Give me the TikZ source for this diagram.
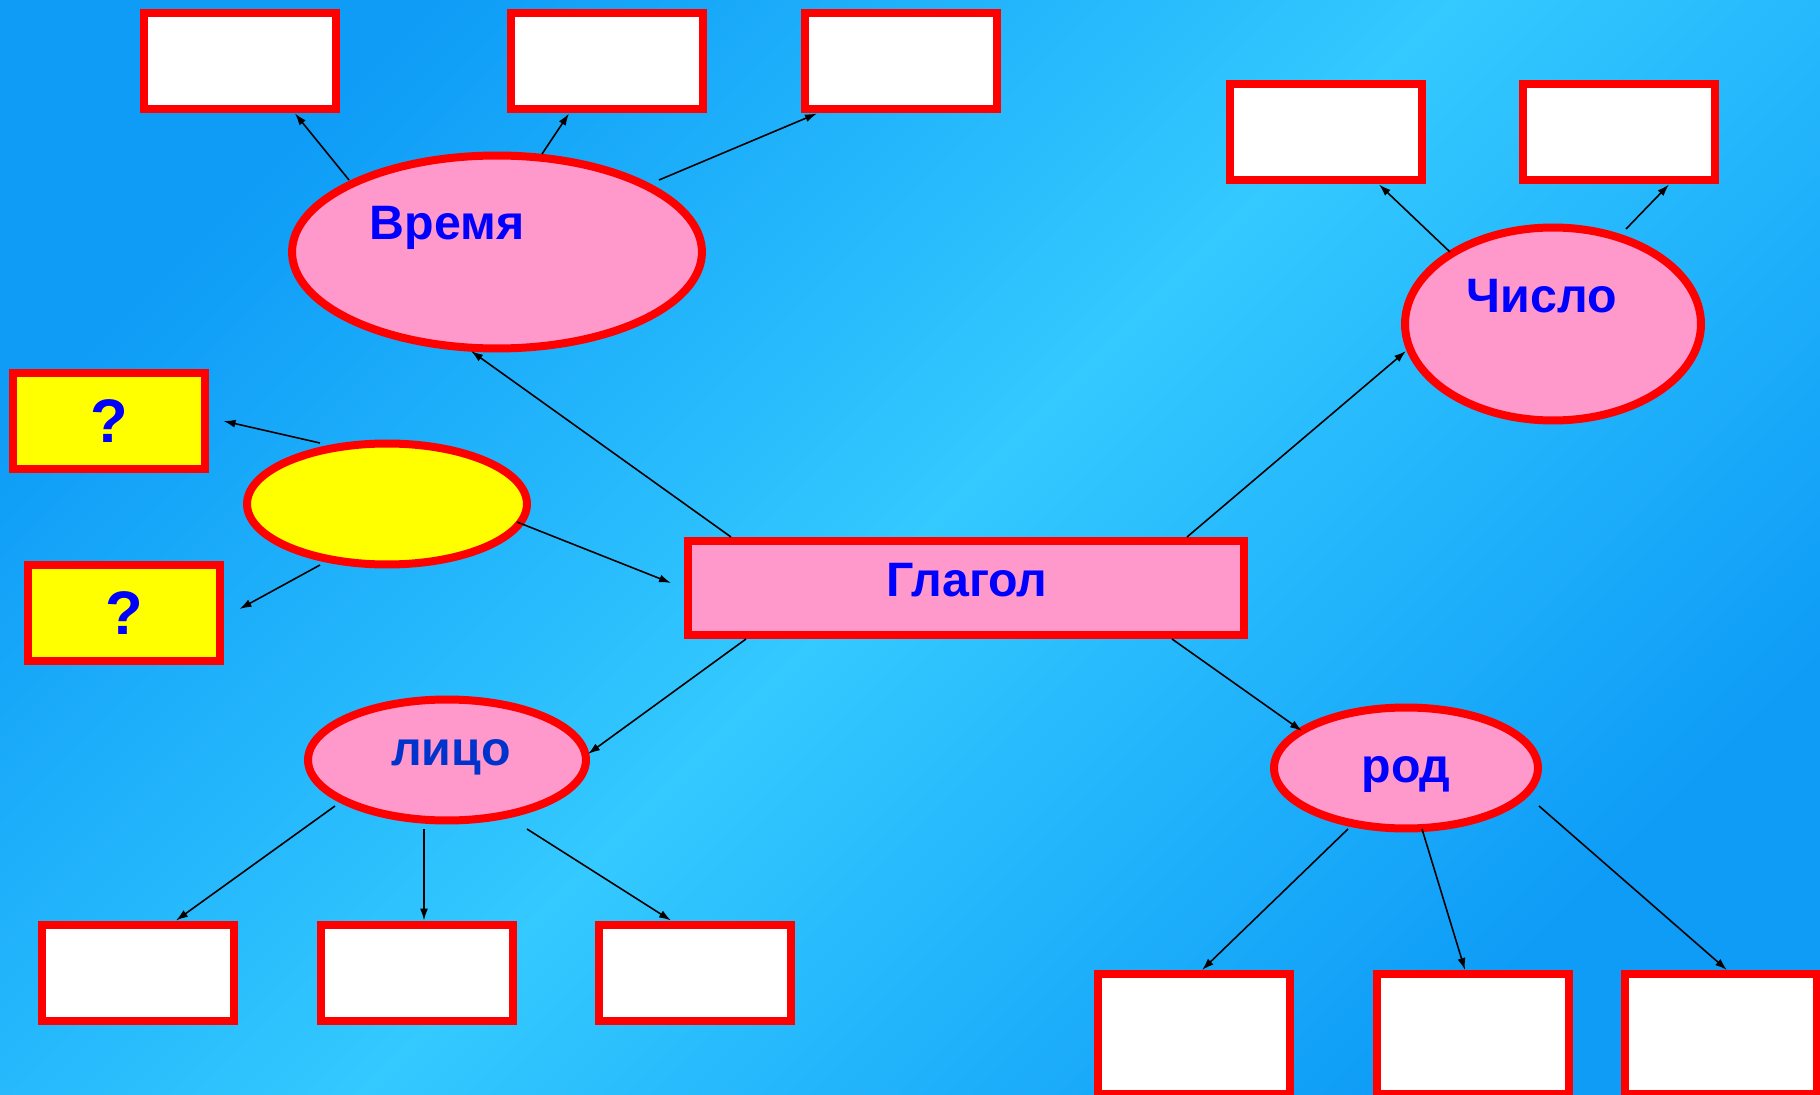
\documentclass[tikz,border=0pt]{standalone}
\usepackage{fontspec}
\setmainfont{Liberation Sans}
\usetikzlibrary{shapes.geometric,arrows.meta,calc}
\definecolor{bgdark}{HTML}{0E9CF7}
\definecolor{bglight}{HTML}{34C9FF}
\definecolor{pinkfill}{HTML}{FF99CC}
\definecolor{redline}{HTML}{FF0000}
\definecolor{yel}{HTML}{FFFF00}
\definecolor{lbl}{HTML}{0000FF}
\definecolor{lbldark}{HTML}{0033CC}
\begin{document}
\begin{tikzpicture}[x=0.02cm,y=-0.02cm,
  box/.style={draw=redline, line width=0.16cm, fill=white, rectangle,
    minimum width=3.86cm, minimum height=1.94cm, inner sep=0pt},
  tallbox/.style={box, minimum height=2.4cm},
  qbox/.style={box, fill=yel, font=\fontsize{35}{38}\selectfont\bfseries, text=lbl},
  oval/.style={draw=redline, line width=0.16cm, fill=pinkfill, ellipse, inner sep=0pt},
  lab/.style={anchor=base, font=\fontsize{27.5}{30}\selectfont\bfseries, text=lbl, inner sep=0pt},
  arr/.style={draw=black, line width=0.9pt, -{Latex[length=0.24cm,width=0.16cm]}}]

\useasboundingbox (0,0) rectangle (1820,1095);
\shade[top color=bgdark, bottom color=bgdark, middle color=bglight, shading angle=45]
  (0,0) rectangle (1820,1095);

% boxes
\node[box] (T1) at (240,61) {};
\node[box] (T2) at (607,61) {};
\node[box] (T3) at (901,61) {};
\node[box] (N1) at (1326,132) {};
\node[box] (N2) at (1619,132) {};
\node[qbox] (Q1) at (109,421) {?};
\node[qbox] (Q2) at (124,613) {?};
\node[box] (L1) at (138,973) {};
\node[box] (L2) at (417,973) {};
\node[box] (L3) at (695,973) {};
\node[tallbox] (R1) at (1194,1034) {};
\node[tallbox] (R2) at (1473,1034) {};
\node[tallbox] (R3) at (1721,1034) {};
\node[box, fill=pinkfill, minimum width=11.12cm, minimum height=1.88cm] (Gl) at (966,588) {};

% ellipses
\node[oval, minimum width=8.2cm, minimum height=3.86cm] (Vr) at (497,252) {};
\node[oval, minimum width=5.92cm, minimum height=3.86cm] (Ch) at (1553,324) {};
\node[oval, fill=yel, minimum width=5.6cm, minimum height=2.42cm] (Ye) at (387,504) {};
\node[oval, minimum width=5.56cm, minimum height=2.42cm] (Li) at (447,760) {};
\node[oval, minimum width=5.28cm, minimum height=2.42cm] (Rod) at (1406,768) {};

% labels
\node[lab] (VrT) at (447,239) {Время};
\node[lab] (ChT) at (1542,312) {Число};
\node[lab] (GlT) at (967,596) {Глагол};
\node[lab, text=lbldark] (LiT) at (451,765) {лицо};
\node[lab] (RodT) at (1406,782) {род};

% connectors
\draw[arr] ($(Vr)+(-148,-72)$) -- ($(T1.south)+(55,0)$);
\draw[arr] ($(Vr)+(45,-98)$) -- ($(T2.south)+(-38,0)$);
\draw[arr] ($(Vr)+(162,-72)$) -- ($(T3.south)+(-84,0)$);
\draw[arr] ($(Gl.north)+(-235,0)$) -- ($(Vr)+(-26,99)$);
\draw[arr] ($(Gl.north)+(221,0)$) -- ($(Ch)+(-147,27)$);
\draw[arr] ($(Ch)+(-103,-72)$) -- ($(N1.south)+(53,0)$);
\draw[arr] ($(Ch)+(73,-95)$) -- ($(N2.south)+(50,0)$);
\draw[arr] ($(Ye)+(-67,-61)$) -- ($(Q1.east)+(14,0)$);
\draw[arr] ($(Ye)+(-67,61)$) -- ($(Q2.east)+(15,-4)$);
\draw[arr] ($(Ye)+(130,18)$) -- ($(Gl.west)+(-13,-5)$);
\draw[arr] ($(Gl.south)+(-220,0)$) -- ($(Li)+(141,-6)$);
\draw[arr] ($(Gl.south)+(206,0)$) -- ($(Rod)+(-104,-37)$);
\draw[arr] ($(Li)+(-112,46)$) -- ($(L1.north)+(38,0)$);
\draw[arr] ($(Li)+(-23,69)$) -- ($(L2.north)+(7,0)$);
\draw[arr] ($(Li)+(80,69)$) -- ($(L3.north)+(-24,0)$);
\draw[arr] ($(Rod)+(-58,61)$) -- ($(R1.north)+(8,0)$);
\draw[arr] ($(Rod)+(16,61)$) -- ($(R2.north)+(-8,0)$);
\draw[arr] ($(Rod)+(133,38)$) -- ($(R3.north)+(6,0)$);
\end{tikzpicture}
\end{document}
